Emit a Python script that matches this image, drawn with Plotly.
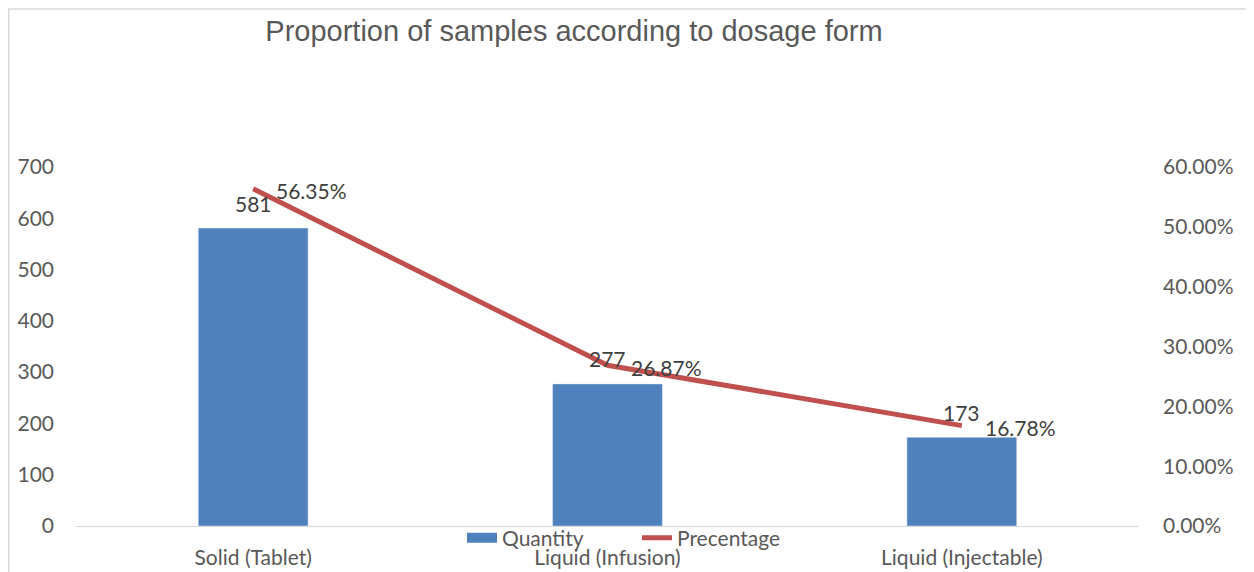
import plotly.graph_objects as go

categories = ["Solid (Tablet)", "Liquid (Infusion)", "Liquid (Injectable)"]
quantity = [581, 277, 173]
percentage = [0.5635, 0.2687, 0.1678]
pct_labels = ["56.35%", "26.87%", "16.78%"]
title_text = "Proportion of samples according to dosage form"

FONT = "Lato, Carlito, Calibri, sans-serif"
GREY = "#595959"
LBL = "#404040"
BLUE = "#4F81BD"
RED = "#C0504D"

L, R, T, B = 68, 123, 159, 54
PW, PH = 1254 - L - R, 572 - T - B  # plot area size

fig = go.Figure()
fig.add_trace(go.Bar(
    x=categories, y=quantity, name="Quantity",
    marker=dict(color=BLUE), width=0.31, showlegend=False,
))
# legend entry shaped like the wide swatch of the reference
fig.add_trace(go.Scatter(
    x=[None], y=[None], name="Quantity", mode="lines",
    line=dict(color=BLUE, width=14), showlegend=True,
))
fig.add_trace(go.Scatter(
    x=categories, y=percentage, name="Precentage", yaxis="y2",
    mode="lines", line=dict(color=RED, width=5),
))

for c, q in zip(categories, quantity):
    fig.add_annotation(x=c, y=q, xref="x", yref="y", text=str(q), showarrow=False,
                       xanchor="center", yanchor="middle", yshift=25,
                       font=dict(family=FONT, size=21, color=LBL))
for c, p, t in zip(categories, percentage, pct_labels):
    fig.add_annotation(x=c, y=p, xref="x", yref="y2", text=t, showarrow=False,
                       xanchor="left", yanchor="middle", xshift=21, yshift=-2,
                       font=dict(family=FONT, size=21, color=LBL))

fig.update_layout(
    width=1254, height=572,
    margin=dict(l=L, r=R, t=T, b=B, autoexpand=False),
    paper_bgcolor="white", plot_bgcolor="white",
    font=dict(family=FONT, size=21, color=GREY),
    title=dict(text=title_text, x=566/1254, xanchor="center", y=1 - 23/572, yanchor="middle",
               yref="container",
               font=dict(family="Liberation Sans, Arial, sans-serif", size=29, color=GREY)),
    showlegend=True,
    legend=dict(orientation="h", x=(629 - L)/PW, xanchor="center", y=-12/PH, yanchor="middle",
                font=dict(family=FONT, size=21, color=GREY), bgcolor="rgba(0,0,0,0)",
                traceorder="normal", entrywidth=130, entrywidthmode="pixels"),
    xaxis=dict(showgrid=False, showline=True, linecolor="#D9D9D9", linewidth=1,
               ticks="", ticklabelstandoff=13, automargin=False,
               tickfont=dict(family=FONT, size=21, color=GREY)),
    yaxis=dict(range=[0, 700], dtick=100, showgrid=False, zeroline=False, showline=False,
               ticks="", ticklabelstandoff=21, automargin=False,
               tickfont=dict(family=FONT, size=21, color=GREY)),
    yaxis2=dict(range=[0, 0.6], dtick=0.1, tickformat=".2%", overlaying="y", side="right",
                showgrid=False, zeroline=False, showline=False, ticks="", ticklabelstandoff=23,
                automargin=False,
                tickfont=dict(family=FONT, size=21, color=GREY)),
)

fig.add_shape(type="rect", xref="paper", yref="paper",
              x0=-(L - 0.75)/PW, x1=1 + 200/PW, y0=-100/PH, y1=1 + (T - 1)/PH,
              line=dict(color="#D9D9D9", width=1.5), layer="below")

fig.write_html("out.html")
